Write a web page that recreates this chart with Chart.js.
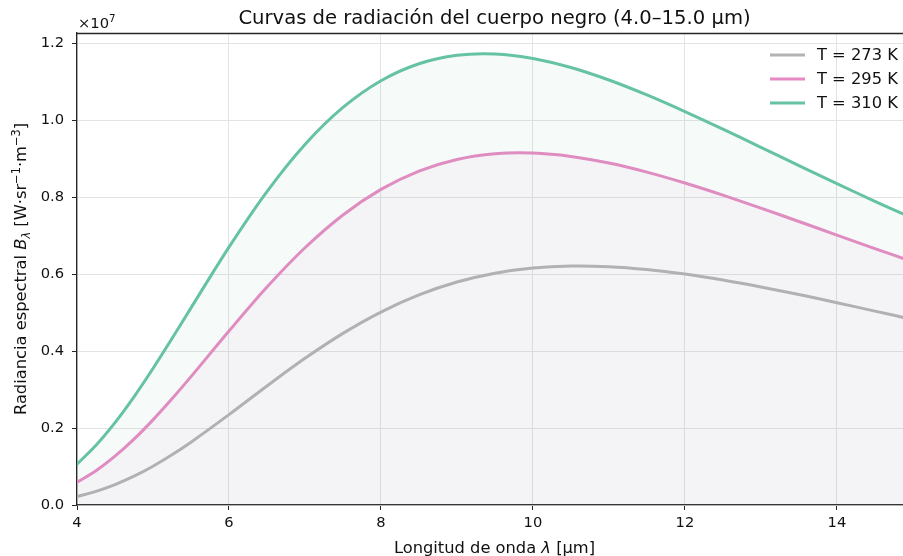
<!DOCTYPE html>
<html>
<head>
<meta charset="utf-8">
<script src="https://cdn.jsdelivr.net/npm/chart.js@4.4.0/dist/chart.umd.min.js"></script>
<style>
  html, body { margin: 0; padding: 0; background: #ffffff; }
  #wrap { width: 903px; height: 556px; position: relative; }
</style>
</head>
<body>
<div id="wrap"><canvas id="c" width="903" height="556"></canvas></div>
<script>
// ---- data ----
const wavelengths = [4, 4.25, 4.5, 4.75, 5, 5.25, 5.5, 6, 6.5, 7, 7.5, 8, 8.5, 9, 9.5, 10, 10.5, 11, 11.5, 12, 12.5, 13, 13.5, 14, 14.5, 15];
const seriesLabels = ['T = 273 K', 'T = 295 K', 'T = 310 K'];
const radiance273 = [220500, 353500, 528900, 747800, 1007800, 1304400, 1631300, 2346800, 3091200, 3809600, 4458400, 5011500, 5456400, 5791600, 6020900, 6155900, 6208600, 6191200, 6117400, 5998500, 5844900, 5664200, 5466000, 5255000, 5036700, 4816400];
const radiance295 = [589100, 891300, 1267100, 1710600, 2211700, 2757500, 3333700, 4518400, 5660600, 6681100, 7533900, 8198700, 8674700, 8976200, 9124200, 9142200, 9055000, 8882100, 8647000, 8363900, 8048500, 7711400, 7363600, 7011800, 6660900, 6316800];
const radiance310 = [1062800, 1553000, 2140700, 2811400, 3545900, 4322800, 5120600, 6697100, 8140400, 9363800, 10325900, 11020200, 11462100, 11683500, 11716900, 11599500, 11364000, 11039400, 10651500, 10219500, 9762600, 9291800, 8817300, 8348300, 7888700, 7444000];
const xTickValues = [4, 6, 8, 10, 12, 14];
const yTickValues = [0, 2e6, 4e6, 6e6, 8e6, 1e7, 1.2e7];
const titleText = 'Curvas de radiación del cuerpo negro (4.0–15.0 µm)';

const FONT = '"DejaVu Sans", "Liberation Sans", sans-serif';
const colors = ['#b3b3b3', '#e78ac3', '#66c2a5'];
const fills = [false, 'rgba(231,138,195,0.08)', 'rgba(102,194,165,0.06)'];
const allSeries = [radiance273, radiance295, radiance310];

function pts(arr) { return wavelengths.map((w, i) => ({ x: w, y: arr[i] })); }

const datasets = allSeries.map((arr, k) => ({
  label: seriesLabels[k],
  data: pts(arr),
  borderColor: colors[k],
  backgroundColor: fills[k] || 'rgba(0,0,0,0)',
  fill: fills[k] ? 'origin' : false,
  borderWidth: 3,
  pointRadius: 0,
  tension: 0.3,
  borderCapStyle: 'round',
  order: 3 - k
}));

function drawRich(ctx, segs, x, y, align) {
  let total = 0;
  segs.forEach(s => { ctx.font = s.font; s.w = ctx.measureText(s.text).width; total += s.w; });
  let cx = align === 'center' ? x - total / 2 : x;
  segs.forEach(s => {
    ctx.font = s.font;
    ctx.fillText(s.text, cx, y + (s.dy || 0));
    cx += s.w;
  });
}

const decorPlugin = {
  id: 'decor',
  afterDraw(chart) {
    const ctx = chart.ctx;
    const a = chart.chartArea;
    ctx.save();
    // top spine
    ctx.strokeStyle = '#262626';
    ctx.lineWidth = 1.3;
    ctx.beginPath();
    ctx.moveTo(a.left, a.top + 0.5);
    ctx.lineTo(a.right, a.top + 0.5);
    ctx.stroke();

    ctx.fillStyle = '#111111';
    ctx.textBaseline = 'alphabetic';
    ctx.textAlign = 'left';
    // title
    drawRich(ctx, [{ text: titleText, font: '19.6px ' + FONT }], 494.5, 24, 'center');
    // multiplier
    drawRich(ctx, [
      { text: '×10', font: '14.7px ' + FONT },
      { text: '7', font: '10.3px ' + FONT, dy: -6 }
    ], 78, 28, 'left');
    // x label
    drawRich(ctx, [
      { text: 'Longitud de onda ', font: '16.3px ' + FONT },
      { text: 'λ', font: 'italic 16.3px ' + FONT },
      { text: ' [µm]', font: '16.3px ' + FONT }
    ], 494.5, 552.5, 'center');
    // y label
    ctx.save();
    ctx.translate(26, (a.top + a.bottom) / 2);
    ctx.rotate(-Math.PI / 2);
    drawRich(ctx, [
      { text: 'Radiancia espectral ', font: '16.3px ' + FONT },
      { text: 'B', font: 'italic 16.3px ' + FONT },
      { text: 'λ', font: 'italic 11.4px ' + FONT, dy: 3.5 },
      { text: ' [W·sr', font: '16.3px ' + FONT },
      { text: '−1', font: '11.4px ' + FONT, dy: -6.5 },
      { text: '·m', font: '16.3px ' + FONT },
      { text: '−3', font: '11.4px ' + FONT, dy: -6.5 },
      { text: ']', font: '16.3px ' + FONT }
    ], 0, 0, 'center');
    ctx.restore();
    // legend
    chart.data.datasets.forEach((ds, i) => {
      const y = 55 + i * 24;
      ctx.strokeStyle = ds.borderColor;
      ctx.lineWidth = 3;
      ctx.beginPath();
      ctx.moveTo(770, y);
      ctx.lineTo(805, y);
      ctx.stroke();
      ctx.fillStyle = '#111111';
      ctx.font = '16.3px ' + FONT;
      ctx.textBaseline = 'middle';
      ctx.textAlign = 'left';
      ctx.fillText(ds.label, 817, y + 1);
    });
    ctx.restore();
  }
};

new Chart(document.getElementById('c'), {
  type: 'line',
  data: { datasets },
  plugins: [decorPlugin],
  options: {
    responsive: false,
    animation: false,
    devicePixelRatio: 1,
    layout: { padding: { top: 33, right: 0, bottom: 0, left: 0 } },
    plugins: { legend: { display: false }, title: { display: false }, tooltip: { enabled: false } },
    scales: {
      x: {
        type: 'linear',
        min: 4,
        max: 14.87,
        afterBuildTicks: s => { s.ticks = xTickValues.map(v => ({ value: v })); },
        afterFit: s => { s.height = 51; },
        ticks: { color: '#111111', font: { family: FONT, size: 14.7 }, padding: 4, maxRotation: 0, autoSkip: false },
        grid: { color: '#e3e3e3', lineWidth: 1, tickColor: '#262626', tickLength: 5 },
        border: { color: '#262626', width: 1.3 }
      },
      y: {
        type: 'linear',
        min: 0,
        max: 1.226e7,
        afterBuildTicks: s => { s.ticks = yTickValues.map(v => ({ value: v })); },
        afterFit: s => { s.width = 77; },
        ticks: { color: '#111111', font: { family: FONT, size: 14.7 }, padding: 8, callback: v => (v / 1e7).toFixed(1) },
        grid: { color: '#e3e3e3', lineWidth: 1, tickColor: '#262626', tickLength: 5 },
        border: { color: '#262626', width: 1.3 }
      }
    }
  }
});
</script>
</body>
</html>
